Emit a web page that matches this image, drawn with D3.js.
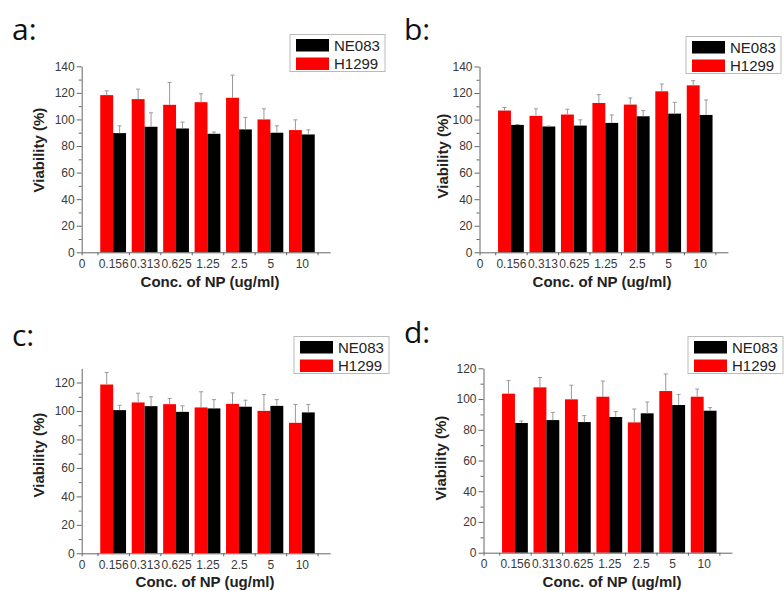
<!DOCTYPE html>
<html>
<head>
<meta charset="utf-8">
<script src="https://cdn.jsdelivr.net/npm/d3@7"></script>
<style>
  body { margin: 0; background: #fff; }
  svg { display: block; }
  .tick text { font-family: "Liberation Sans", Arial, sans-serif; font-size: 12px; fill: #3a3a3a; }
  .domain, .tick line { stroke: #666; }
</style>
</head>
<body>
<div id="chart"></div>
<script>
// categories on the x axis (label "0" sits at index 0)
var categories = ["0.156", "0.313", "0.625", "1.25", "2.5", "5", "10"];
var xLabels = ["0"].concat(categories);
var seriesNames = ["NE083", "H1299"];

// panel a
var aH1299 = [118.3, 115.3, 111, 113, 116.3, 100, 92];
var aH1299Err = [3.2, 7.5, 16.8, 6.3, 17, 8, 7.7];
var aNE083 = [89.7, 94.5, 93.2, 89.2, 92.5, 90, 88.7];
var aNE083Err = [5.5, 10.5, 4.8, 1.3, 9, 5.2, 3.5];

// panel b
var bH1299 = [106.8, 102.8, 103.8, 112.5, 111.3, 121.3, 125.8];
var bH1299Err = [2.3, 5.3, 4, 6.3, 5, 5.5, 3.5];
var bNE083 = [96, 94.8, 95.5, 97.5, 102.5, 104.5, 103.5];
var bNE083Err = [0.3, 0.3, 4.3, 6, 4.3, 8.5, 11.3];

// panel c
var cH1299 = [118.6, 106, 104.8, 102.5, 105, 100.1, 91.7];
var cH1299Err = [8.4, 6.5, 4, 11, 7.7, 11.5, 12.9];
var cNE083 = [100.6, 103.4, 99.4, 101.8, 103, 103.6, 99];
var cNE083Err = [3.4, 6.6, 4.2, 6.2, 4.6, 4.4, 5.6];

// panel d
var dH1299 = [103.5, 107.6, 99.8, 101.5, 84.8, 105.2, 101.5];
var dH1299Err = [8.5, 6.4, 9.2, 10.2, 8.7, 11.1, 5];
var dNE083 = [84.4, 86.3, 85, 88.3, 90.7, 96.1, 92.4];
var dNE083Err = [1.3, 5, 4.2, 3.5, 7.3, 6.9, 2];

var panels = [
  { label: "a:", red: aH1299, redErr: aH1299Err, black: aNE083, blackErr: aNE083Err,
    yMax: 140, yTicks: 140, x0: 81.7, top: 66.3, bottom: 252.3,
    lab: [12, 40], ytitle: [39, 150], xtitle: [210, 287], legend: [290, 34.5] },
  { label: "b:", red: bH1299, redErr: bH1299Err, black: bNE083, blackErr: bNE083Err,
    yMax: 140, yTicks: 140, x0: 479.5, top: 66.5, bottom: 252.3,
    lab: [404, 40], ytitle: [443, 156], xtitle: [602, 287], legend: [686, 36.5] },
  { label: "c:", red: cH1299, redErr: cH1299Err, black: cNE083, blackErr: cNE083Err,
    yMax: 130, yTicks: 120, x0: 81.7, top: 368.3, bottom: 553.3,
    lab: [12, 346], ytitle: [39, 455], xtitle: [205, 587], legend: [294, 336.5] },
  { label: "d:", red: dH1299, redErr: dH1299Err, black: dNE083, blackErr: dNE083Err,
    yMax: 120, yTicks: 120, x0: 483.5, top: 368.3, bottom: 552.7,
    lab: [404, 343], ytitle: [441, 458], xtitle: [612, 587], legend: [688, 336.5] }
];

var width = 784, height = 591;
var step = 31.45, barW = 0.41;

var svg = d3.select("#chart").append("svg")
    .attr("width", width)
    .attr("height", height);

svg.append("rect").attr("width", width).attr("height", height).attr("fill", "#fff");

panels.forEach(function(p) {
  var g = svg.append("g");

  var x = d3.scaleLinear().domain([0, 7.9]).range([p.x0, p.x0 + 7.9 * step]);
  var y = d3.scaleLinear().domain([0, p.yMax]).range([p.bottom, p.top]);

  // bars
  var idx = d3.range(categories.length);
  g.selectAll(".red").data(idx).enter().append("rect")
    .attr("x", function(i) { return x(i + 1 - barW); })
    .attr("width", function(i) { return x(i + 1) - x(i + 1 - barW); })
    .attr("y", function(i) { return y(p.red[i]); })
    .attr("height", function(i) { return y(0) - y(p.red[i]); })
    .attr("fill", "#ff0000");
  g.selectAll(".black").data(idx).enter().append("rect")
    .attr("x", function(i) { return x(i + 1); })
    .attr("width", function(i) { return x(i + 1 + barW) - x(i + 1); })
    .attr("y", function(i) { return y(p.black[i]); })
    .attr("height", function(i) { return y(0) - y(p.black[i]); })
    .attr("fill", "#000");

  // error bars (upper only)
  function errBars(vals, errs, off) {
    idx.forEach(function(i) {
      var cx = x(i + 1 + off);
      g.append("line").attr("x1", cx).attr("x2", cx)
        .attr("y1", y(vals[i])).attr("y2", y(vals[i] + errs[i]))
        .attr("stroke", "#999").attr("stroke-width", 1);
      g.append("line").attr("x1", cx - 2).attr("x2", cx + 2)
        .attr("y1", y(vals[i] + errs[i])).attr("y2", y(vals[i] + errs[i]))
        .attr("stroke", "#999").attr("stroke-width", 1);
    });
  }
  errBars(p.red, p.redErr, -barW / 2);
  errBars(p.black, p.blackErr, barW / 2);

  // y axis
  g.append("g")
    .attr("transform", "translate(" + p.x0 + ",0)")
    .call(d3.axisLeft(y).tickValues(d3.range(0, p.yTicks + 1, 20)).tickSize(5).tickPadding(2).tickSizeOuter(0));
  g.append("g")
    .attr("transform", "translate(" + p.x0 + ",0)")
    .call(d3.axisLeft(y).tickValues(d3.range(10, p.yMax, 20)).tickSize(3).tickFormat("").tickSizeOuter(0))
    .select(".domain").remove();

  // x axis: labels at indices, small ticks between groups
  g.append("g")
    .attr("transform", "translate(0," + p.bottom + ")")
    .call(d3.axisBottom(x).tickValues(d3.range(0, 8)).tickSize(0).tickPadding(7)
      .tickFormat(function(d) { return xLabels[d]; }).tickSizeOuter(0));
  g.append("g")
    .attr("transform", "translate(0," + p.bottom + ")")
    .call(d3.axisBottom(x).tickValues([0].concat(d3.range(0.5, 8, 1))).tickSize(3).tickFormat("").tickSizeOuter(0))
    .select(".domain").remove();

  // titles
  g.append("text")
    .attr("transform", "translate(" + p.ytitle[0] + "," + p.ytitle[1] + ") rotate(-90)")
    .attr("text-anchor", "middle").attr("dy", "0.35em")
    .style("font-family", "'Liberation Sans', Arial, sans-serif").style("font-size", "15px").style("font-weight", "bold")
    .attr("fill", "#222")
    .text("Viability (%)");
  g.append("text")
    .attr("x", p.xtitle[0]).attr("y", p.xtitle[1])
    .attr("text-anchor", "middle")
    .style("font-family", "'Liberation Sans', Arial, sans-serif").style("font-size", "15px").style("font-weight", "bold")
    .attr("fill", "#222")
    .text("Conc. of NP (ug/ml)");

  // panel letter
  g.append("text")
    .attr("x", p.lab[0]).attr("y", p.lab[1])
    .style("font-family", "'Open Sans', sans-serif").style("font-size", "30px")
    .attr("fill", "#111")
    .text(p.label);

  // legend
  var lg = g.append("g").attr("transform", "translate(" + p.legend[0] + "," + p.legend[1] + ")");
  lg.append("rect").attr("width", 95).attr("height", 37)
    .attr("fill", "#fff").attr("stroke", "#bbb").attr("stroke-width", 1);
  var colors = ["#000", "#ff0000"];
  seriesNames.forEach(function(name, k) {
    lg.append("rect").attr("x", 6).attr("y", 4.5 + k * 18.5).attr("width", 33).attr("height", 12.5)
      .attr("fill", colors[k]);
    lg.append("text").attr("x", 44).attr("y", 16 + k * 18.5)
      .style("font-family", "'Liberation Sans', Arial, sans-serif").style("font-size", "15px")
      .attr("fill", "#222")
      .text(name);
  });
});
</script>
</body>
</html>
